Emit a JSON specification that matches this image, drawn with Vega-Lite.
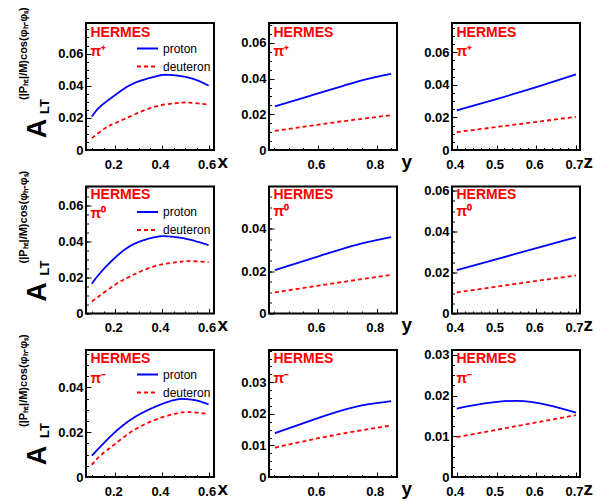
{
  "$schema": "https://vega.github.io/schema/vega-lite/v6.json",
  "autosize": "none",
  "padding": {"left": 86, "top": 23, "right": 511, "bottom": 479},
  "background": "white",
  "datasets": {
    "c": [
      {"h":"pi+","v":"x","s":"proton","k":0.1,"a":0.0208},{"h":"pi+","v":"x","s":"proton","k":0.136,"a":0.027},{"h":"pi+","v":"x","s":"proton","k":0.2,"a":0.0342},{"h":"pi+","v":"x","s":"proton","k":0.28,"a":0.0415},{"h":"pi+","v":"x","s":"proton","k":0.37,"a":0.0456},{"h":"pi+","v":"x","s":"proton","k":0.42,"a":0.0468},{"h":"pi+","v":"x","s":"proton","k":0.5,"a":0.0455},{"h":"pi+","v":"x","s":"proton","k":0.56,"a":0.0428},{"h":"pi+","v":"x","s":"proton","k":0.6,"a":0.04},
      {"h":"pi+","v":"x","s":"deuteron","k":0.1,"a":0.0074},{"h":"pi+","v":"x","s":"deuteron","k":0.157,"a":0.0136},{"h":"pi+","v":"x","s":"deuteron","k":0.2,"a":0.0167},{"h":"pi+","v":"x","s":"deuteron","k":0.28,"a":0.0219},{"h":"pi+","v":"x","s":"deuteron","k":0.37,"a":0.027},{"h":"pi+","v":"x","s":"deuteron","k":0.45,"a":0.029},{"h":"pi+","v":"x","s":"deuteron","k":0.51,"a":0.0295},{"h":"pi+","v":"x","s":"deuteron","k":0.6,"a":0.0282},
      {"h":"pi+","v":"y","s":"proton","k":0.453,"a":0.0245},{"h":"pi+","v":"y","s":"proton","k":0.573,"a":0.0304},{"h":"pi+","v":"y","s":"proton","k":0.686,"a":0.036},{"h":"pi+","v":"y","s":"proton","k":0.766,"a":0.0398},{"h":"pi+","v":"y","s":"proton","k":0.849,"a":0.0427},
      {"h":"pi+","v":"y","s":"deuteron","k":0.453,"a":0.0107},{"h":"pi+","v":"y","s":"deuteron","k":0.652,"a":0.0154},{"h":"pi+","v":"y","s":"deuteron","k":0.849,"a":0.0195},
      {"h":"pi+","v":"z","s":"proton","k":0.4,"a":0.0243},{"h":"pi+","v":"z","s":"proton","k":0.5,"a":0.0313},{"h":"pi+","v":"z","s":"proton","k":0.6,"a":0.0386},{"h":"pi+","v":"z","s":"proton","k":0.7,"a":0.0464},
      {"h":"pi+","v":"z","s":"deuteron","k":0.4,"a":0.011},{"h":"pi+","v":"z","s":"deuteron","k":0.55,"a":0.0157},{"h":"pi+","v":"z","s":"deuteron","k":0.7,"a":0.0204},
      {"h":"pi0","v":"x","s":"proton","k":0.1,"a":0.0165},{"h":"pi0","v":"x","s":"proton","k":0.136,"a":0.0225},{"h":"pi0","v":"x","s":"proton","k":0.2,"a":0.031},{"h":"pi0","v":"x","s":"proton","k":0.28,"a":0.0385},{"h":"pi0","v":"x","s":"proton","k":0.37,"a":0.0423},{"h":"pi0","v":"x","s":"proton","k":0.42,"a":0.0428},{"h":"pi0","v":"x","s":"proton","k":0.5,"a":0.0415},{"h":"pi0","v":"x","s":"proton","k":0.6,"a":0.0379},
      {"h":"pi0","v":"x","s":"deuteron","k":0.1,"a":0.0066},{"h":"pi0","v":"x","s":"deuteron","k":0.2,"a":0.016},{"h":"pi0","v":"x","s":"deuteron","k":0.28,"a":0.0216},{"h":"pi0","v":"x","s":"deuteron","k":0.37,"a":0.0263},{"h":"pi0","v":"x","s":"deuteron","k":0.45,"a":0.0282},{"h":"pi0","v":"x","s":"deuteron","k":0.51,"a":0.029},{"h":"pi0","v":"x","s":"deuteron","k":0.6,"a":0.0285},
      {"h":"pi0","v":"y","s":"proton","k":0.453,"a":0.0205},{"h":"pi0","v":"y","s":"proton","k":0.607,"a":0.0272},{"h":"pi0","v":"y","s":"proton","k":0.731,"a":0.0324},{"h":"pi0","v":"y","s":"proton","k":0.849,"a":0.036},
      {"h":"pi0","v":"y","s":"deuteron","k":0.453,"a":0.00995},{"h":"pi0","v":"y","s":"deuteron","k":0.652,"a":0.0142},{"h":"pi0","v":"y","s":"deuteron","k":0.849,"a":0.0182},
      {"h":"pi0","v":"z","s":"proton","k":0.4,"a":0.0212},{"h":"pi0","v":"z","s":"proton","k":0.55,"a":0.0292},{"h":"pi0","v":"z","s":"proton","k":0.7,"a":0.0372},
      {"h":"pi0","v":"z","s":"deuteron","k":0.4,"a":0.0103},{"h":"pi0","v":"z","s":"deuteron","k":0.55,"a":0.0145},{"h":"pi0","v":"z","s":"deuteron","k":0.7,"a":0.0186},
      {"h":"pi-","v":"x","s":"proton","k":0.1,"a":0.0095},{"h":"pi-","v":"x","s":"proton","k":0.136,"a":0.0135},{"h":"pi-","v":"x","s":"proton","k":0.2,"a":0.0201},{"h":"pi-","v":"x","s":"proton","k":0.28,"a":0.0265},{"h":"pi-","v":"x","s":"proton","k":0.37,"a":0.0313},{"h":"pi-","v":"x","s":"proton","k":0.45,"a":0.0343},{"h":"pi-","v":"x","s":"proton","k":0.5,"a":0.0348},{"h":"pi-","v":"x","s":"proton","k":0.55,"a":0.0341},{"h":"pi-","v":"x","s":"proton","k":0.6,"a":0.0324},
      {"h":"pi-","v":"x","s":"deuteron","k":0.1,"a":0.0054},{"h":"pi-","v":"x","s":"deuteron","k":0.136,"a":0.0095},{"h":"pi-","v":"x","s":"deuteron","k":0.2,"a":0.0148},{"h":"pi-","v":"x","s":"deuteron","k":0.28,"a":0.0209},{"h":"pi-","v":"x","s":"deuteron","k":0.37,"a":0.0255},{"h":"pi-","v":"x","s":"deuteron","k":0.45,"a":0.0281},{"h":"pi-","v":"x","s":"deuteron","k":0.51,"a":0.029},{"h":"pi-","v":"x","s":"deuteron","k":0.6,"a":0.0281},
      {"h":"pi-","v":"y","s":"proton","k":0.453,"a":0.0139},{"h":"pi-","v":"y","s":"proton","k":0.607,"a":0.0189},{"h":"pi-","v":"y","s":"proton","k":0.731,"a":0.0223},{"h":"pi-","v":"y","s":"proton","k":0.849,"a":0.024},
      {"h":"pi-","v":"y","s":"deuteron","k":0.453,"a":0.0093},{"h":"pi-","v":"y","s":"deuteron","k":0.652,"a":0.0132},{"h":"pi-","v":"y","s":"deuteron","k":0.849,"a":0.0163},
      {"h":"pi-","v":"z","s":"proton","k":0.4,"a":0.0168},{"h":"pi-","v":"z","s":"proton","k":0.466,"a":0.018},{"h":"pi-","v":"z","s":"proton","k":0.55,"a":0.0187},{"h":"pi-","v":"z","s":"proton","k":0.627,"a":0.0177},{"h":"pi-","v":"z","s":"proton","k":0.7,"a":0.0158},
      {"h":"pi-","v":"z","s":"deuteron","k":0.4,"a":0.0098},{"h":"pi-","v":"z","s":"deuteron","k":0.55,"a":0.0125},{"h":"pi-","v":"z","s":"deuteron","k":0.7,"a":0.0152}
    ]
  },
  "columns": 3,
  "spacing": {"row": 36.5, "column": 55},
  "bounds": "flush",
  "resolve": {"scale": {"color": "independent", "strokeDash": "independent"}},
  "concat": [
    {
      "width": 128, "height": 127,
      "data": {"name": "c"},
      "transform": [{"filter": "datum.h === 'pi+' && datum.v === 'x'"}],
      "title": {"text": "(|Pₕₜ|/M)cos(φₕ-φₛ)", "orient": "left", "anchor": "start", "frame": "group", "dx": 50, "offset": -6, "fontSize": 11, "fontWeight": "bold", "font": "Liberation Sans", "color": "black"},
      "layer": [
        {"transform": [{"filter": "datum.s === 'proton'"}],
         "mark": {"type": "line", "strokeWidth": 1.8, "interpolate": "natural"},
         "encoding": {
           "x": {"field": "k", "type": "quantitative", "scale": {"domain": [0.075, 0.623], "nice": false, "zero": false},
                 "axis": {"values": [0.2,0.4,0.6], "format": "~g", "title": "x", "titleX": 131, "titleY": 17, "titleAlign": "left", "titleBaseline": "alphabetic", "titleAngle": 0, "titleFontSize": 19}},
           "y": {"field": "a", "type": "quantitative", "scale": {"domain": [0, 0.079], "nice": false, "zero": false},
                 "axis": {"values": [0,0.02,0.04,0.06], "format": "~g", "title": "A", "titleX": -41, "titleY": 105, "titleAngle": 270, "titleAlign": "center", "titleBaseline": "alphabetic", "titleFontSize": 27}},
           "color": {"datum": "proton", "type": "nominal", "scale": {"domain": ["proton","deuteron"], "range": ["#0000ff","#ff0000"]},
                     "legend": {"orient": "none", "legendX": 50, "legendY": 14, "title": null, "symbolType": "stroke", "symbolSize": 441, "symbolStrokeWidth": 1.8, "labelFont": "Liberation Sans", "labelFontSize": 12, "labelColor": "black", "labelOffset": 4, "rowPadding": -4.5, "padding": 0}},
           "strokeDash": {"datum": "proton", "type": "nominal", "scale": {"domain": ["proton","deuteron"], "range": [[1,0],[4,3]]},
                     "legend": {"orient": "none", "legendX": 50, "legendY": 14, "title": null, "symbolType": "stroke", "symbolSize": 441, "symbolStrokeWidth": 1.8, "labelFont": "Liberation Sans", "labelFontSize": 12, "labelColor": "black", "labelOffset": 4, "rowPadding": -4.5, "padding": 0}}
         }},
        {"transform": [{"filter": "datum.s === 'deuteron'"}],
         "mark": {"type": "line", "strokeWidth": 1.8, "interpolate": "natural"},
         "encoding": {
           "x": {"field": "k", "type": "quantitative", "scale": {"domain": [0.075, 0.623], "nice": false, "zero": false},
                 "axis": {"orient": "bottom", "values": [0.1,0.15,0.2,0.25,0.3,0.35,0.4,0.45,0.5,0.55,0.6], "labels": false, "tickSize": -2.5, "title": "LT", "titleX": -38, "titleY": -44, "titleAngle": 270, "titleAlign": "center", "titleBaseline": "alphabetic", "titleFontSize": 13}},
           "y": {"field": "a", "type": "quantitative", "scale": {"domain": [0, 0.079], "nice": false, "zero": false},
                 "axis": {"orient": "left", "values": [0,0.005,0.01,0.015,0.02,0.025,0.03,0.035,0.04,0.045,0.05,0.055,0.06,0.065,0.07,0.075], "labels": false, "tickSize": -2.5, "title": ["HERMES","π⁺"], "titleX": 4, "titleY": 2, "titleAngle": 0, "titleAlign": "left", "titleBaseline": "top", "titleColor": "#ff0000", "titleFontSize": 14, "titleLineHeight": 19}},
           "color": {"datum": "deuteron", "type": "nominal"},
           "strokeDash": {"datum": "deuteron", "type": "nominal"}
         }}
      ],
      "resolve": {"axis": {"x": "independent", "y": "independent"}}
    },
    {
      "width": 128, "height": 127,
      "data": {"name": "c"},
      "transform": [{"filter": "datum.h === 'pi+' && datum.v === 'y'"}],
      "layer": [
        {"transform": [{"filter": "datum.s === 'proton'"}],
         "mark": {"type": "line", "color": "#0000ff", "strokeWidth": 1.8, "interpolate": "natural"},
         "encoding": {
           "x": {"field": "k", "type": "quantitative", "scale": {"domain": [0.433, 0.869], "nice": false, "zero": false},
                 "axis": {"values": [0.6,0.8], "format": "~g", "title": "y", "titleX": 132, "titleY": 17, "titleAlign": "left", "titleBaseline": "alphabetic", "titleAngle": 0, "titleFontSize": 19}},
           "y": {"field": "a", "type": "quantitative", "scale": {"domain": [0, 0.0712], "nice": false, "zero": false},
                 "axis": {"values": [0,0.02,0.04,0.06], "format": "~g", "title": null}}
         }},
        {"transform": [{"filter": "datum.s === 'deuteron'"}],
         "mark": {"type": "line", "color": "#ff0000", "strokeDash": [4,3], "strokeWidth": 1.8, "interpolate": "natural"},
         "encoding": {
           "x": {"field": "k", "type": "quantitative", "scale": {"domain": [0.433, 0.869], "nice": false, "zero": false},
                 "axis": {"orient": "bottom", "values": [0.45,0.5,0.55,0.6,0.65,0.7,0.75,0.8,0.85], "labels": false, "tickSize": -2.5, "title": null}},
           "y": {"field": "a", "type": "quantitative", "scale": {"domain": [0, 0.0712], "nice": false, "zero": false},
                 "axis": {"orient": "left", "values": [0,0.005,0.01,0.015,0.02,0.025,0.03,0.035,0.04,0.045,0.05,0.055,0.06,0.065,0.07], "labels": false, "tickSize": -2.5, "title": ["HERMES","π⁺"], "titleX": 4, "titleY": 2, "titleAngle": 0, "titleAlign": "left", "titleBaseline": "top", "titleColor": "#ff0000", "titleFontSize": 14, "titleLineHeight": 19}}
         }}
      ],
      "resolve": {"axis": {"x": "independent", "y": "independent"}}
    },
    {
      "width": 128, "height": 127,
      "data": {"name": "c"},
      "transform": [{"filter": "datum.h === 'pi+' && datum.v === 'z'"}],
      "layer": [
        {"transform": [{"filter": "datum.s === 'proton'"}],
         "mark": {"type": "line", "color": "#0000ff", "strokeWidth": 1.8, "interpolate": "natural"},
         "encoding": {
           "x": {"field": "k", "type": "quantitative", "scale": {"domain": [0.388, 0.71], "nice": false, "zero": false},
                 "axis": {"values": [0.4,0.5,0.6,0.7], "format": "~g", "title": "z", "titleX": 131, "titleY": 17, "titleAlign": "left", "titleBaseline": "alphabetic", "titleAngle": 0, "titleFontSize": 19}},
           "y": {"field": "a", "type": "quantitative", "scale": {"domain": [0, 0.078], "nice": false, "zero": false},
                 "axis": {"values": [0,0.02,0.04,0.06], "format": "~g", "title": null}}
         }},
        {"transform": [{"filter": "datum.s === 'deuteron'"}],
         "mark": {"type": "line", "color": "#ff0000", "strokeDash": [4,3], "strokeWidth": 1.8, "interpolate": "natural"},
         "encoding": {
           "x": {"field": "k", "type": "quantitative", "scale": {"domain": [0.388, 0.71], "nice": false, "zero": false},
                 "axis": {"orient": "bottom", "values": [0.4,0.42,0.44,0.46,0.48,0.5,0.52,0.54,0.56,0.58,0.6,0.62,0.64,0.66,0.68,0.7], "labels": false, "tickSize": -2.5, "title": null}},
           "y": {"field": "a", "type": "quantitative", "scale": {"domain": [0, 0.078], "nice": false, "zero": false},
                 "axis": {"orient": "left", "values": [0,0.005,0.01,0.015,0.02,0.025,0.03,0.035,0.04,0.045,0.05,0.055,0.06,0.065,0.07,0.075], "labels": false, "tickSize": -2.5, "title": ["HERMES","π⁺"], "titleX": 4, "titleY": 2, "titleAngle": 0, "titleAlign": "left", "titleBaseline": "top", "titleColor": "#ff0000", "titleFontSize": 14, "titleLineHeight": 19}}
         }}
      ],
      "resolve": {"axis": {"x": "independent", "y": "independent"}}
    },
    {
      "width": 128, "height": 127,
      "data": {"name": "c"},
      "transform": [{"filter": "datum.h === 'pi0' && datum.v === 'x'"}],
      "title": {"text": "(|Pₕₜ|/M)cos(φₕ-φₛ)", "orient": "left", "anchor": "start", "frame": "group", "dx": 50, "offset": -6, "fontSize": 11, "fontWeight": "bold", "font": "Liberation Sans", "color": "black"},
      "layer": [
        {"transform": [{"filter": "datum.s === 'proton'"}],
         "mark": {"type": "line", "strokeWidth": 1.8, "interpolate": "natural"},
         "encoding": {
           "x": {"field": "k", "type": "quantitative", "scale": {"domain": [0.075, 0.623], "nice": false, "zero": false},
                 "axis": {"values": [0.2,0.4,0.6], "format": "~g", "title": "x", "titleX": 131, "titleY": 17, "titleAlign": "left", "titleBaseline": "alphabetic", "titleAngle": 0, "titleFontSize": 19}},
           "y": {"field": "a", "type": "quantitative", "scale": {"domain": [0, 0.0704], "nice": false, "zero": false},
                 "axis": {"values": [0,0.02,0.04,0.06], "format": "~g", "title": "A", "titleX": -41, "titleY": 105, "titleAngle": 270, "titleAlign": "center", "titleBaseline": "alphabetic", "titleFontSize": 27}},
           "color": {"datum": "proton", "type": "nominal", "scale": {"domain": ["proton","deuteron"], "range": ["#0000ff","#ff0000"]},
                     "legend": {"orient": "none", "legendX": 50, "legendY": 14, "title": null, "symbolType": "stroke", "symbolSize": 441, "symbolStrokeWidth": 1.8, "labelFont": "Liberation Sans", "labelFontSize": 12, "labelColor": "black", "labelOffset": 4, "rowPadding": -4.5, "padding": 0}},
           "strokeDash": {"datum": "proton", "type": "nominal", "scale": {"domain": ["proton","deuteron"], "range": [[1,0],[4,3]]},
                     "legend": {"orient": "none", "legendX": 50, "legendY": 14, "title": null, "symbolType": "stroke", "symbolSize": 441, "symbolStrokeWidth": 1.8, "labelFont": "Liberation Sans", "labelFontSize": 12, "labelColor": "black", "labelOffset": 4, "rowPadding": -4.5, "padding": 0}}
         }},
        {"transform": [{"filter": "datum.s === 'deuteron'"}],
         "mark": {"type": "line", "strokeWidth": 1.8, "interpolate": "natural"},
         "encoding": {
           "x": {"field": "k", "type": "quantitative", "scale": {"domain": [0.075, 0.623], "nice": false, "zero": false},
                 "axis": {"orient": "bottom", "values": [0.1,0.15,0.2,0.25,0.3,0.35,0.4,0.45,0.5,0.55,0.6], "labels": false, "tickSize": -2.5, "title": "LT", "titleX": -38, "titleY": -46, "titleAngle": 270, "titleAlign": "center", "titleBaseline": "alphabetic", "titleFontSize": 13}},
           "y": {"field": "a", "type": "quantitative", "scale": {"domain": [0, 0.0704], "nice": false, "zero": false},
                 "axis": {"orient": "left", "values": [0,0.005,0.01,0.015,0.02,0.025,0.03,0.035,0.04,0.045,0.05,0.055,0.06,0.065,0.07], "labels": false, "tickSize": -2.5, "title": ["HERMES","π⁰"], "titleX": 4, "titleY": 1, "titleAngle": 0, "titleAlign": "left", "titleBaseline": "top", "titleColor": "#ff0000", "titleFontSize": 14, "titleLineHeight": 19}},
           "color": {"datum": "deuteron", "type": "nominal"},
           "strokeDash": {"datum": "deuteron", "type": "nominal"}
         }}
      ],
      "resolve": {"axis": {"x": "independent", "y": "independent"}}
    },
    {
      "width": 128, "height": 127,
      "data": {"name": "c"},
      "transform": [{"filter": "datum.h === 'pi0' && datum.v === 'y'"}],
      "layer": [
        {"transform": [{"filter": "datum.s === 'proton'"}],
         "mark": {"type": "line", "color": "#0000ff", "strokeWidth": 1.8, "interpolate": "natural"},
         "encoding": {
           "x": {"field": "k", "type": "quantitative", "scale": {"domain": [0.433, 0.869], "nice": false, "zero": false},
                 "axis": {"values": [0.6,0.8], "format": "~g", "title": "y", "titleX": 132, "titleY": 17, "titleAlign": "left", "titleBaseline": "alphabetic", "titleAngle": 0, "titleFontSize": 19}},
           "y": {"field": "a", "type": "quantitative", "scale": {"domain": [0, 0.0599], "nice": false, "zero": false},
                 "axis": {"values": [0,0.02,0.04], "format": "~g", "title": null}}
         }},
        {"transform": [{"filter": "datum.s === 'deuteron'"}],
         "mark": {"type": "line", "color": "#ff0000", "strokeDash": [4,3], "strokeWidth": 1.8, "interpolate": "natural"},
         "encoding": {
           "x": {"field": "k", "type": "quantitative", "scale": {"domain": [0.433, 0.869], "nice": false, "zero": false},
                 "axis": {"orient": "bottom", "values": [0.45,0.5,0.55,0.6,0.65,0.7,0.75,0.8,0.85], "labels": false, "tickSize": -2.5, "title": null}},
           "y": {"field": "a", "type": "quantitative", "scale": {"domain": [0, 0.0599], "nice": false, "zero": false},
                 "axis": {"orient": "left", "values": [0,0.005,0.01,0.015,0.02,0.025,0.03,0.035,0.04,0.045,0.05,0.055], "labels": false, "tickSize": -2.5, "title": ["HERMES","π⁰"], "titleX": 4, "titleY": 1, "titleAngle": 0, "titleAlign": "left", "titleBaseline": "top", "titleColor": "#ff0000", "titleFontSize": 14, "titleLineHeight": 17}}
         }}
      ],
      "resolve": {"axis": {"x": "independent", "y": "independent"}}
    },
    {
      "width": 128, "height": 127,
      "data": {"name": "c"},
      "transform": [{"filter": "datum.h === 'pi0' && datum.v === 'z'"}],
      "layer": [
        {"transform": [{"filter": "datum.s === 'proton'"}],
         "mark": {"type": "line", "color": "#0000ff", "strokeWidth": 1.8, "interpolate": "natural"},
         "encoding": {
           "x": {"field": "k", "type": "quantitative", "scale": {"domain": [0.388, 0.71], "nice": false, "zero": false},
                 "axis": {"values": [0.4,0.5,0.6,0.7], "format": "~g", "title": "z", "titleX": 131, "titleY": 17, "titleAlign": "left", "titleBaseline": "alphabetic", "titleAngle": 0, "titleFontSize": 19}},
           "y": {"field": "a", "type": "quantitative", "scale": {"domain": [0, 0.062], "nice": false, "zero": false},
                 "axis": {"values": [0,0.02,0.04,0.06], "format": "~g", "title": null}}
         }},
        {"transform": [{"filter": "datum.s === 'deuteron'"}],
         "mark": {"type": "line", "color": "#ff0000", "strokeDash": [4,3], "strokeWidth": 1.8, "interpolate": "natural"},
         "encoding": {
           "x": {"field": "k", "type": "quantitative", "scale": {"domain": [0.388, 0.71], "nice": false, "zero": false},
                 "axis": {"orient": "bottom", "values": [0.4,0.42,0.44,0.46,0.48,0.5,0.52,0.54,0.56,0.58,0.6,0.62,0.64,0.66,0.68,0.7], "labels": false, "tickSize": -2.5, "title": null}},
           "y": {"field": "a", "type": "quantitative", "scale": {"domain": [0, 0.062], "nice": false, "zero": false},
                 "axis": {"orient": "left", "values": [0,0.005,0.01,0.015,0.02,0.025,0.03,0.035,0.04,0.045,0.05,0.055,0.06], "labels": false, "tickSize": -2.5, "title": ["HERMES","π⁰"], "titleX": 4, "titleY": 1, "titleAngle": 0, "titleAlign": "left", "titleBaseline": "top", "titleColor": "#ff0000", "titleFontSize": 14, "titleLineHeight": 17}}
         }}
      ],
      "resolve": {"axis": {"x": "independent", "y": "independent"}}
    },
    {
      "width": 128, "height": 127,
      "data": {"name": "c"},
      "transform": [{"filter": "datum.h === 'pi-' && datum.v === 'x'"}],
      "title": {"text": "(|Pₕₜ|/M)cos(φₕ-φₛ)", "orient": "left", "anchor": "start", "frame": "group", "dx": 50, "offset": -6, "fontSize": 11, "fontWeight": "bold", "font": "Liberation Sans", "color": "black"},
      "layer": [
        {"transform": [{"filter": "datum.s === 'proton'"}],
         "mark": {"type": "line", "strokeWidth": 1.8, "interpolate": "natural"},
         "encoding": {
           "x": {"field": "k", "type": "quantitative", "scale": {"domain": [0.075, 0.623], "nice": false, "zero": false},
                 "axis": {"values": [0.2,0.4,0.6], "format": "~g", "title": "x", "titleX": 131, "titleY": 17, "titleAlign": "left", "titleBaseline": "alphabetic", "titleAngle": 0, "titleFontSize": 19}},
           "y": {"field": "a", "type": "quantitative", "scale": {"domain": [0, 0.0567], "nice": false, "zero": false},
                 "axis": {"values": [0,0.02,0.04], "format": "~g", "title": "A", "titleX": -41, "titleY": 105, "titleAngle": 270, "titleAlign": "center", "titleBaseline": "alphabetic", "titleFontSize": 27}},
           "color": {"datum": "proton", "type": "nominal", "scale": {"domain": ["proton","deuteron"], "range": ["#0000ff","#ff0000"]},
                     "legend": {"orient": "none", "legendX": 50, "legendY": 13, "title": null, "symbolType": "stroke", "symbolSize": 441, "symbolStrokeWidth": 1.8, "labelFont": "Liberation Sans", "labelFontSize": 12, "labelColor": "black", "labelOffset": 4, "rowPadding": -4.5, "padding": 0}},
           "strokeDash": {"datum": "proton", "type": "nominal", "scale": {"domain": ["proton","deuteron"], "range": [[1,0],[4,3]]},
                     "legend": {"orient": "none", "legendX": 50, "legendY": 13, "title": null, "symbolType": "stroke", "symbolSize": 441, "symbolStrokeWidth": 1.8, "labelFont": "Liberation Sans", "labelFontSize": 12, "labelColor": "black", "labelOffset": 4, "rowPadding": -4.5, "padding": 0}}
         }},
        {"transform": [{"filter": "datum.s === 'deuteron'"}],
         "mark": {"type": "line", "strokeWidth": 1.8, "interpolate": "natural"},
         "encoding": {
           "x": {"field": "k", "type": "quantitative", "scale": {"domain": [0.075, 0.623], "nice": false, "zero": false},
                 "axis": {"orient": "bottom", "values": [0.1,0.15,0.2,0.25,0.3,0.35,0.4,0.45,0.5,0.55,0.6], "labels": false, "tickSize": -2.5, "title": "LT", "titleX": -38, "titleY": -47, "titleAngle": 270, "titleAlign": "center", "titleBaseline": "alphabetic", "titleFontSize": 13}},
           "y": {"field": "a", "type": "quantitative", "scale": {"domain": [0, 0.0567], "nice": false, "zero": false},
                 "axis": {"orient": "left", "values": [0,0.005,0.01,0.015,0.02,0.025,0.03,0.035,0.04,0.045,0.05,0.055], "labels": false, "tickSize": -2.5, "title": ["HERMES","π⁻"], "titleX": 4, "titleY": 1, "titleAngle": 0, "titleAlign": "left", "titleBaseline": "top", "titleColor": "#ff0000", "titleFontSize": 14, "titleLineHeight": 20}},
           "color": {"datum": "deuteron", "type": "nominal"},
           "strokeDash": {"datum": "deuteron", "type": "nominal"}
         }}
      ],
      "resolve": {"axis": {"x": "independent", "y": "independent"}}
    },
    {
      "width": 128, "height": 127,
      "data": {"name": "c"},
      "transform": [{"filter": "datum.h === 'pi-' && datum.v === 'y'"}],
      "layer": [
        {"transform": [{"filter": "datum.s === 'proton'"}],
         "mark": {"type": "line", "color": "#0000ff", "strokeWidth": 1.8, "interpolate": "natural"},
         "encoding": {
           "x": {"field": "k", "type": "quantitative", "scale": {"domain": [0.433, 0.869], "nice": false, "zero": false},
                 "axis": {"values": [0.6,0.8], "format": "~g", "title": "y", "titleX": 132, "titleY": 17, "titleAlign": "left", "titleBaseline": "alphabetic", "titleAngle": 0, "titleFontSize": 19}},
           "y": {"field": "a", "type": "quantitative", "scale": {"domain": [0, 0.0402], "nice": false, "zero": false},
                 "axis": {"values": [0,0.01,0.02,0.03], "format": "~g", "title": null}}
         }},
        {"transform": [{"filter": "datum.s === 'deuteron'"}],
         "mark": {"type": "line", "color": "#ff0000", "strokeDash": [4,3], "strokeWidth": 1.8, "interpolate": "natural"},
         "encoding": {
           "x": {"field": "k", "type": "quantitative", "scale": {"domain": [0.433, 0.869], "nice": false, "zero": false},
                 "axis": {"orient": "bottom", "values": [0.45,0.5,0.55,0.6,0.65,0.7,0.75,0.8,0.85], "labels": false, "tickSize": -2.5, "title": null}},
           "y": {"field": "a", "type": "quantitative", "scale": {"domain": [0, 0.0402], "nice": false, "zero": false},
                 "axis": {"orient": "left", "values": [0,0.0025,0.005,0.0075,0.01,0.0125,0.015,0.0175,0.02,0.0225,0.025,0.0275,0.03,0.0325,0.035,0.0375,0.04], "labels": false, "tickSize": -2.5, "title": ["HERMES","π⁻"], "titleX": 4, "titleY": 1, "titleAngle": 0, "titleAlign": "left", "titleBaseline": "top", "titleColor": "#ff0000", "titleFontSize": 14, "titleLineHeight": 20}}
         }}
      ],
      "resolve": {"axis": {"x": "independent", "y": "independent"}}
    },
    {
      "width": 128, "height": 127,
      "data": {"name": "c"},
      "transform": [{"filter": "datum.h === 'pi-' && datum.v === 'z'"}],
      "layer": [
        {"transform": [{"filter": "datum.s === 'proton'"}],
         "mark": {"type": "line", "color": "#0000ff", "strokeWidth": 1.8, "interpolate": "natural"},
         "encoding": {
           "x": {"field": "k", "type": "quantitative", "scale": {"domain": [0.388, 0.71], "nice": false, "zero": false},
                 "axis": {"values": [0.4,0.5,0.6,0.7], "format": "~g", "title": "z", "titleX": 131, "titleY": 17, "titleAlign": "left", "titleBaseline": "alphabetic", "titleAngle": 0, "titleFontSize": 19}},
           "y": {"field": "a", "type": "quantitative", "scale": {"domain": [0, 0.0312], "nice": false, "zero": false},
                 "axis": {"values": [0,0.01,0.02,0.03], "format": "~g", "title": null}}
         }},
        {"transform": [{"filter": "datum.s === 'deuteron'"}],
         "mark": {"type": "line", "color": "#ff0000", "strokeDash": [4,3], "strokeWidth": 1.8, "interpolate": "natural"},
         "encoding": {
           "x": {"field": "k", "type": "quantitative", "scale": {"domain": [0.388, 0.71], "nice": false, "zero": false},
                 "axis": {"orient": "bottom", "values": [0.4,0.42,0.44,0.46,0.48,0.5,0.52,0.54,0.56,0.58,0.6,0.62,0.64,0.66,0.68,0.7], "labels": false, "tickSize": -2.5, "title": null}},
           "y": {"field": "a", "type": "quantitative", "scale": {"domain": [0, 0.0312], "nice": false, "zero": false},
                 "axis": {"orient": "left", "values": [0,0.0025,0.005,0.0075,0.01,0.0125,0.015,0.0175,0.02,0.0225,0.025,0.0275,0.03], "labels": false, "tickSize": -2.5, "title": ["HERMES","π⁻"], "titleX": 4, "titleY": 1, "titleAngle": 0, "titleAlign": "left", "titleBaseline": "top", "titleColor": "#ff0000", "titleFontSize": 14, "titleLineHeight": 20}}
         }}
      ],
      "resolve": {"axis": {"x": "independent", "y": "independent"}}
    }
  ],
  "config": {
    "view": {"stroke": "black", "strokeWidth": 2},
    "axis": {"grid": false, "domain": false, "labelFont": "Liberation Sans", "labelFontSize": 13, "labelFontWeight": "bold", "labelColor": "black", "tickColor": "black", "tickWidth": 1, "titleFont": "Liberation Sans", "titleFontWeight": "bold", "titleColor": "black", "labelOverlap": false, "labelFlush": false},
    "axisX": {"tickSize": -5, "labelPadding": 13, "labelOffset": -2},
    "axisY": {"tickSize": -5, "labelPadding": 8}
  }
}
